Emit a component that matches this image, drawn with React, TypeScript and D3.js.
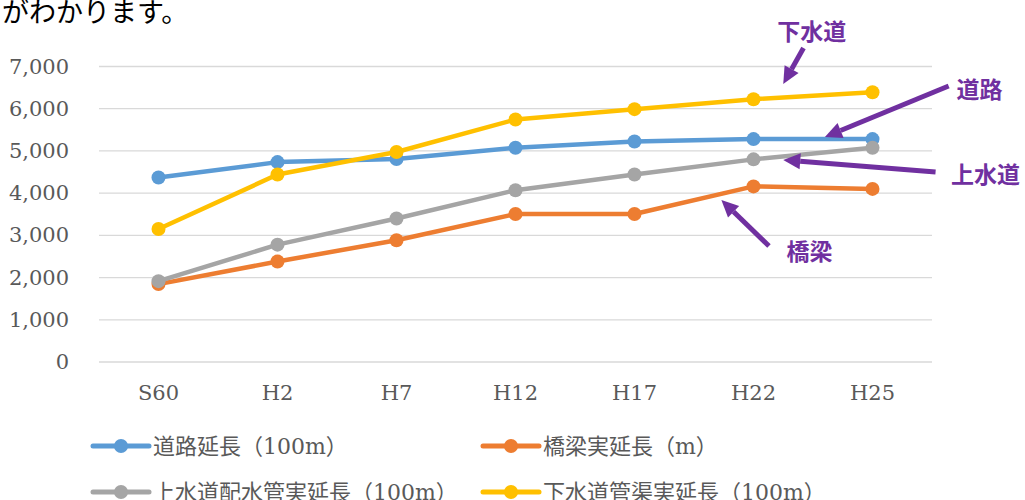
import React from 'react';
import { format, line, scaleLinear, scalePoint } from 'd3';

// categories and series
const categories = ['S60', 'H2', 'H7', 'H12', 'H17', 'H22', 'H25'];
const roadValues = [4370, 4735, 4810, 5075, 5225, 5280, 5280];
const bridgeValues = [1845, 2380, 2885, 3505, 3505, 4160, 4100];
const waterValues = [1915, 2780, 3400, 4070, 4440, 4800, 5075];
const sewerValues = [3150, 4440, 4975, 5745, 5990, 6225, 6390];
const yTicks = [0, 1000, 2000, 3000, 4000, 5000, 6000, 7000];

const seriesNames = [
  '道路延長（100m）',
  '橋梁実延長（m）',
  '上水道配水管実延長（100m）',
  '下水道管渠実延長（100m）',
];
const seriesColors = ['#5B9BD5', '#ED7D31', '#A5A5A5', '#FFC000'];

// callouts in data space (x as category index, y as value)
const calloutLabels = ['下水道', '道路', '上水道', '橋梁'];
const calloutText = [
  [5.49, 7866],
  [6.9, 6491],
  [6.95, 4478],
  [5.47, 2653],
];
const calloutTail = [
  [5.42, 7439],
  [6.64, 6539],
  [6.53, 4501],
  [5.13, 2748],
];
const calloutTip = [
  [5.25, 6586],
  [5.6, 5330],
  [5.25, 4786],
  [4.73, 3838],
];

const W = 1025;
const H = 500;
const purple = '#7030A0';
const serif = '"DejaVu Serif", "Noto Sans CJK JP", serif';
const jp = '"Noto Sans CJK JP", sans-serif';

const Arrow: React.FC<{ x1: number; y1: number; x2: number; y2: number }> = ({
  x1,
  y1,
  x2,
  y2,
}) => {
  const ang = Math.atan2(y2 - y1, x2 - x1);
  const len = 17;
  const half = 8;
  const bx = x2 - len * Math.cos(ang);
  const by = y2 - len * Math.sin(ang);
  const px = -Math.sin(ang) * half;
  const py = Math.cos(ang) * half;
  return (
    <g>
      <line x1={x1} y1={y1} x2={bx} y2={by} stroke={purple} strokeWidth={5} />
      <path
        d={`M${x2},${y2}L${bx + px},${by + py}L${bx - px},${by - py}Z`}
        fill={purple}
      />
    </g>
  );
};

const App: React.FC = () => {
  const left = 99;
  const right = 932;
  const xScale = scalePoint<string>()
    .domain(categories)
    .range([left, right])
    .padding(0.5);
  const yScale = scaleLinear().domain([0, 7000]).range([362, 66.5]);
  const step = xScale.step();
  const xIdx = (i: number) => (xScale(categories[0]) as number) + i * step;

  const allSeries = [roadValues, bridgeValues, waterValues, sewerValues];
  const lineGenerator = line<number>()
    .x((_, i) => xScale(categories[i]) as number)
    .y((d) => yScale(d));

  const legendPos = [
    [93, 446],
    [483, 446],
    [93, 492],
    [483, 492],
  ];

  return (
    <svg
      width={W}
      height={H}
      style={{ position: 'absolute', left: 0, top: 0, background: '#fff' }}
    >
      <text x={2} y={22} fontFamily={jp} fontSize={27} fill="#000">
        がわかります。
      </text>

      {/* grid */}
      {yTicks.map((t) => (
        <line
          key={t}
          x1={left}
          x2={right}
          y1={yScale(t)}
          y2={yScale(t)}
          stroke="#D9D9D9"
          strokeWidth={1.3}
        />
      ))}

      {/* y labels */}
      {yTicks.map((t) => (
        <text
          key={t}
          x={69}
          y={yScale(t)}
          textAnchor="end"
          dominantBaseline="central"
          fontFamily={serif}
          fontSize={21}
          fill="#595959"
        >
          {format(',')(t)}
        </text>
      ))}

      {/* x labels */}
      {categories.map((c) => (
        <text
          key={c}
          x={xScale(c)}
          y={393}
          textAnchor="middle"
          dominantBaseline="central"
          fontFamily={serif}
          fontSize={21}
          fill="#595959"
        >
          {c}
        </text>
      ))}

      {/* series */}
      {allSeries.map((vals, s) => (
        <g key={s}>
          <path
            d={lineGenerator(vals) || ''}
            fill="none"
            stroke={seriesColors[s]}
            strokeWidth={4.5}
            strokeLinejoin="round"
            strokeLinecap="round"
          />
          {vals.map((v, i) => (
            <circle
              key={i}
              cx={xScale(categories[i])}
              cy={yScale(v)}
              r={7}
              fill={seriesColors[s]}
            />
          ))}
        </g>
      ))}

      {/* callouts */}
      {calloutLabels.map((lab, k) => (
        <g key={lab}>
          <Arrow
            x1={xIdx(calloutTail[k][0])}
            y1={yScale(calloutTail[k][1])}
            x2={xIdx(calloutTip[k][0])}
            y2={yScale(calloutTip[k][1])}
          />
          <text
            x={xIdx(calloutText[k][0])}
            y={yScale(calloutText[k][1])}
            textAnchor="middle"
            dominantBaseline="central"
            fontFamily={jp}
            fontWeight="bold"
            fontSize={23}
            fill={purple}
          >
            {lab}
          </text>
        </g>
      ))}

      {/* legend */}
      {seriesNames.map((name, s) => {
        const [lx, ly] = legendPos[s];
        return (
          <g key={name}>
            <line
              x1={lx}
              x2={lx + 56}
              y1={ly}
              y2={ly}
              stroke={seriesColors[s]}
              strokeWidth={5}
              strokeLinecap="round"
            />
            <circle cx={lx + 28} cy={ly} r={7} fill={seriesColors[s]} />
            <text
              x={lx + 60}
              y={ly}
              dominantBaseline="central"
              fontFamily={serif}
              fontSize={22}
              fill="#595959"
            >
              {name}
            </text>
          </g>
        );
      })}
    </svg>
  );
};

export default App;
